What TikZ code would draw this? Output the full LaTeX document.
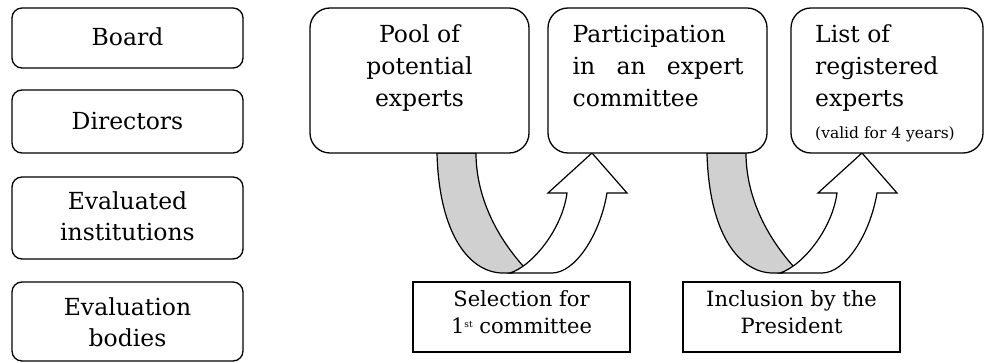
\documentclass[tikz,border=0pt]{standalone}
\usepackage{fontspec}
\setmainfont{DejaVu Serif}
\definecolor{bandgray}{RGB}{208,208,208}
\newcommand{\supst}[1]{\raisebox{6pt}{\fontsize{9}{9}\selectfont #1}}
\tikzset{
  rbox/.style={draw=black, line width=1.3pt, fill=white, rounded corners=10pt, inner sep=0pt},
  bbox/.style={draw=black, line width=1.3pt, fill=white, rounded corners=20pt, inner sep=0pt},
  sbox/.style={draw=black, line width=1.6pt, fill=white, inner sep=0pt},
  txt/.style={inner sep=0pt, anchor=base, font=\fontsize{23.5}{32}\selectfont},
  txtw/.style={inner sep=0pt, anchor=base west, font=\fontsize{23.5}{32}\selectfont},
  stxt/.style={inner sep=0pt, anchor=base, font=\fontsize{21}{27}\selectfont},
  band/.style={draw=black, line width=1.2pt, fill=bandgray, line join=round},
  uarrow/.style={draw=black, line width=1.2pt, fill=white, line join=miter},
}
\begin{document}
\begin{tikzpicture}[x=1pt, y=-1pt]
\useasboundingbox (0,0) rectangle (985,363);

% curved arrows (drawn first, boxes on top)
\foreach \dx in {0, 270}{
  \begin{scope}[xshift=\dx pt]
    \path[band] (437,153) .. controls (439,235) and (470,273) .. (503,273)
      -- (512,273) -- (524,267) .. controls (496,236) and (476,196) .. (476,153) -- cycle;
    \path[uarrow] (510,273) .. controls (532,266) and (562,230) .. (567,193)
      -- (548,193) -- (592,153) -- (627,193) -- (607,193)
      .. controls (600,235) and (575,273) .. (552,273) -- cycle;
  \end{scope}
}

% left column
\node[rbox, minimum width=231pt, minimum height=60pt] (board) at (127.5,38) {};
\node[rbox, minimum width=231pt, minimum height=63pt] (directors) at (127.5,121.5) {};
\node[rbox, minimum width=231pt, minimum height=82pt] (evalinst) at (127.5,218) {};
\node[rbox, minimum width=231pt, minimum height=79pt] (evalbod) at (127.5,321.5) {};
\node[txt] (boardt) at (127.5,46) {Board};
\node[txt] (directorst) at (127.5,130) {Directors};
\node[txt] (evalinstt) at (127.5,210) {\parbox[t]{231pt}{\centering\baselineskip=31pt Evaluated\\institutions}};
\node[txt] (evalbodt) at (127.5,316) {\parbox[t]{231pt}{\centering\baselineskip=31pt Evaluation\\bodies}};

% top boxes
\node[bbox, minimum width=219pt, minimum height=145pt] (pool) at (419.5,80.5) {};
\node[bbox, minimum width=219pt, minimum height=145pt] (part) at (657.5,80.5) {};
\node[bbox, minimum width=192pt, minimum height=145pt] (list) at (887,80.5) {};
\node[txt] (poolt) at (419.5,43) {\parbox[t]{219pt}{\centering Pool of\\potential\\experts}};
\node[txtw] (partt) at (572.5,43) {\parbox[t]{171pt}{Participation\\\makebox[171pt][s]{in an expert}\\committee}};
\node[txtw] (listt) at (815,43) {\parbox[t]{165pt}{List of\\registered\\experts\\{\fontsize{15.5}{16}\selectfont (valid for 4 years)}}};

% bottom boxes
\node[sbox, minimum width=217pt, minimum height=70pt] (sel) at (521.5,317) {};
\node[sbox, minimum width=217pt, minimum height=70pt] (incl) at (791.5,317) {};
\node[stxt] (selt) at (521.5,306) {\parbox[t]{217pt}{\centering Selection for\\1\supst{st} committee}};
\node[stxt] (inclt) at (791.5,306) {\parbox[t]{217pt}{\centering Inclusion by the\\President}};
\end{tikzpicture}
\end{document}
